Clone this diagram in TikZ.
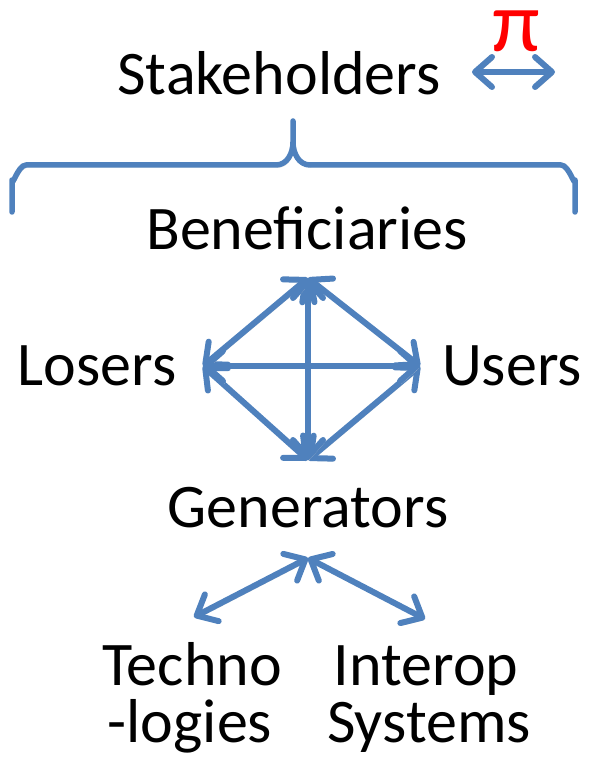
\documentclass[tikz,border=0pt]{standalone}
\usepackage{fontspec}
\setmainfont{Carlito}
\usetikzlibrary{arrows.meta}
\definecolor{accent}{HTML}{4F81BD}
\begin{document}
\begin{tikzpicture}[x=1pt,y=-1pt,
  lbl/.style={font=\fontsize{62}{74}\selectfont, anchor=base, inner sep=0pt},
  shadowed/.style={preaction={draw=black!16, transform canvas={xshift=1.5pt,yshift=-2.5pt}}},
  link/.style={draw=accent, line width=6pt, line cap=round, line join=round,
    {Straight Barb[round,length=17pt,width=30pt,line width=6pt]}-{Straight Barb[round,length=17pt,width=30pt,line width=6pt]}, shadowed},
  brace/.style={draw=accent, line width=5.5pt, line cap=round, line join=round, shadowed},
]
\useasboundingbox (0,0) rectangle (588,775);

% labels
\node[lbl] (stake) at (279,95) {Stakeholders};
\node[lbl, text=red, font=\fontsize{86}{96}\selectfont] (pi) at (516,52) {π};
\node[lbl] (benef) at (307,250) {Beneficiaries};
\node[lbl] (losers) at (97,385) {Losers};
\node[lbl] (users) at (512,385) {Users};
\node[lbl] (gen) at (308,527) {Generators};
\node[lbl] (techA) at (192,685) {Techno};
\node[lbl] (techB) at (190,742) {-logies};
\node[lbl] (interA) at (426,685) {Interop};
\node[lbl] (interB) at (429,742) {Systems};

% arrow end points
\coordinate (piL) at (472,72);
\coordinate (piR) at (555,72);
\coordinate (dT) at (308,278);
\coordinate (dL) at (203,366);
\coordinate (dR) at (420,366);
\coordinate (dB) at (308,460);
\coordinate (gTop) at (308,558);
\coordinate (gL) at (194,617);
\coordinate (gR) at (425,619);

% bracket under the heading
\path[brace] (12,212) -- (12,180) to[out=-90,in=180] (26,165) -- (276,165)
  to[out=0,in=-90] (293,142) -- (293,121) -- (293,142)
  to[out=-90,in=180] (310,165) -- (561,165) to[out=0,in=-90] (575,180) -- (575,212);

% connectors
\draw[link] (piL) -- (piR);
\draw[link] (dT) -- (dL);
\draw[link] (dT) -- (dR);
\draw[link] (dB) -- (dL);
\draw[link] (dB) -- (dR);
\draw[link] (dT) -- (dB);
\draw[link] (dL) -- (dR);
\draw[link] (gTop) -- (gL);
\draw[link] (gTop) -- (gR);
\end{tikzpicture}
\end{document}
